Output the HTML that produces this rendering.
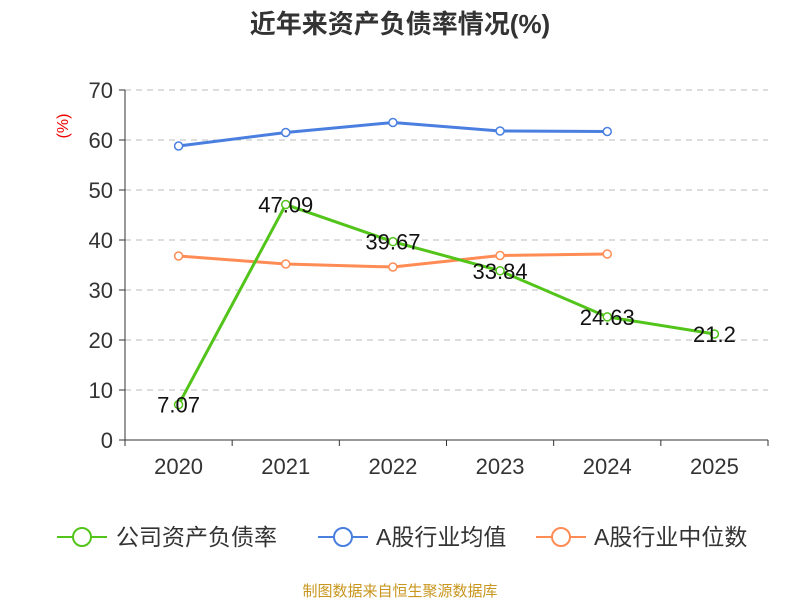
<!DOCTYPE html>
<html><head><meta charset="utf-8"><style>
body{margin:0;background:#fff;width:800px;height:600px;overflow:hidden;font-family:"Liberation Sans","Noto Sans CJK SC",sans-serif}
</style></head><body>
<svg id="c" width="800" height="600" font-family="Liberation Sans, Noto Sans CJK SC, sans-serif">
<text x="400" y="33" text-anchor="middle" font-size="26" font-weight="bold" fill="#333">近年来资产负债率情况(%)</text>
<text transform="translate(68,126) rotate(-90)" text-anchor="middle" font-size="16" fill="#e00">(%)</text>
<g id="grid"></g><g id="series"></g>
<g>
<g><line x1="57" y1="537" x2="107" y2="537" stroke="#52c41a" stroke-width="2"/><circle cx="82" cy="537" r="9" fill="#fff" stroke="#52c41a" stroke-width="2"/><text x="116" y="545" font-size="23" fill="#333">公司资产负债率</text></g>
<g><line x1="318" y1="537" x2="368" y2="537" stroke="#4a7fe0" stroke-width="2"/><circle cx="343" cy="537" r="9" fill="#fff" stroke="#4a7fe0" stroke-width="2"/><text x="376" y="545" font-size="23" fill="#333">A股行业均值</text></g>
<g><line x1="536" y1="537" x2="586" y2="537" stroke="#ff8c55" stroke-width="2"/><circle cx="561" cy="537" r="9" fill="#fff" stroke="#ff8c55" stroke-width="2"/><text x="594" y="545" font-size="23" fill="#333">A股行业中位数</text></g>
</g>
<text x="400" y="596" text-anchor="middle" font-size="15" fill="#c8961e">制图数据来自恒生聚源数据库</text>
</svg>
<script>
const categories=["2020","2021","2022","2023","2024","2025"];
const companyValues=[7.07,47.09,39.67,33.84,24.63,21.2];
const avgValues=[58.8,61.5,63.5,61.8,61.7];
const medianValues=[36.8,35.2,34.6,36.9,37.2];
const yTicks=[0,10,20,30,40,50,60,70];
const NS="http://www.w3.org/2000/svg";
const x0=125,x1=768,y0=440,yTop=90,yMax=70;
const band=(x1-x0)/categories.length;
const xs=i=>x0+band*(i+0.5);
const ys=v=>y0-(v/yMax)*(y0-yTop);
function mk(t,a,p){const e=document.createElementNS(NS,t);for(const k in a)e.setAttribute(k,a[k]);p.appendChild(e);return e;}
const g=document.getElementById('grid'),s=document.getElementById('series');
yTicks.forEach(v=>{
 if(v>0){const l=mk('line',{x1:x0,x2:x1,y1:ys(v),y2:ys(v),stroke:'#bbb','stroke-dasharray':'6,5'},g);
 
 }
 const tk=mk('line',{x1:x0-6,x2:x0,y1:ys(v),y2:ys(v),stroke:'#333'},g);
 
 
 const t=mk('text',{x:x0-12,y:ys(v)+8,'text-anchor':'end','font-size':22,fill:'#333'},g);t.textContent=v;
 
 
});
const ya=mk('line',{x1:x0,x2:x0,y1:yTop,y2:y0,stroke:'#333'},g);


const xa=mk('line',{x1:x0,x2:x1,y1:y0,y2:y0,stroke:'#333'},g);


for(let i=0;i<=categories.length;i++){const tk=mk('line',{x1:x0+band*i,x2:x0+band*i,y1:y0,y2:y0+6,stroke:'#333'},g);
 
 }
categories.forEach((c,i)=>{const t=mk('text',{x:xs(i),y:y0+34,'text-anchor':'middle','font-size':22,fill:'#333'},g);t.textContent=c;
 
 });
function series(vals,color,name,labels){
 const p=mk('polyline',{points:vals.map((v,i)=>xs(i)+','+ys(v)).join(' '),fill:'none',stroke:color,'stroke-width':3},s);
 
 
 vals.forEach((v,i)=>{const c=mk('circle',{cx:xs(i),cy:ys(v),r:4,fill:'#fff',stroke:color,'stroke-width':1.5},s);
  
  });
 if(labels)vals.forEach((v,i)=>{const t=mk('text',{x:xs(i),y:ys(v)+8,'text-anchor':'middle','font-size':22,fill:'#111'},s);t.textContent=v;
  
  });
}
series(avgValues,'#4a7fe0','industry-average',false);
series(medianValues,'#ff8c55','industry-median',false);
series(companyValues,'#52c41a','company',true);
</script>
</body></html>
